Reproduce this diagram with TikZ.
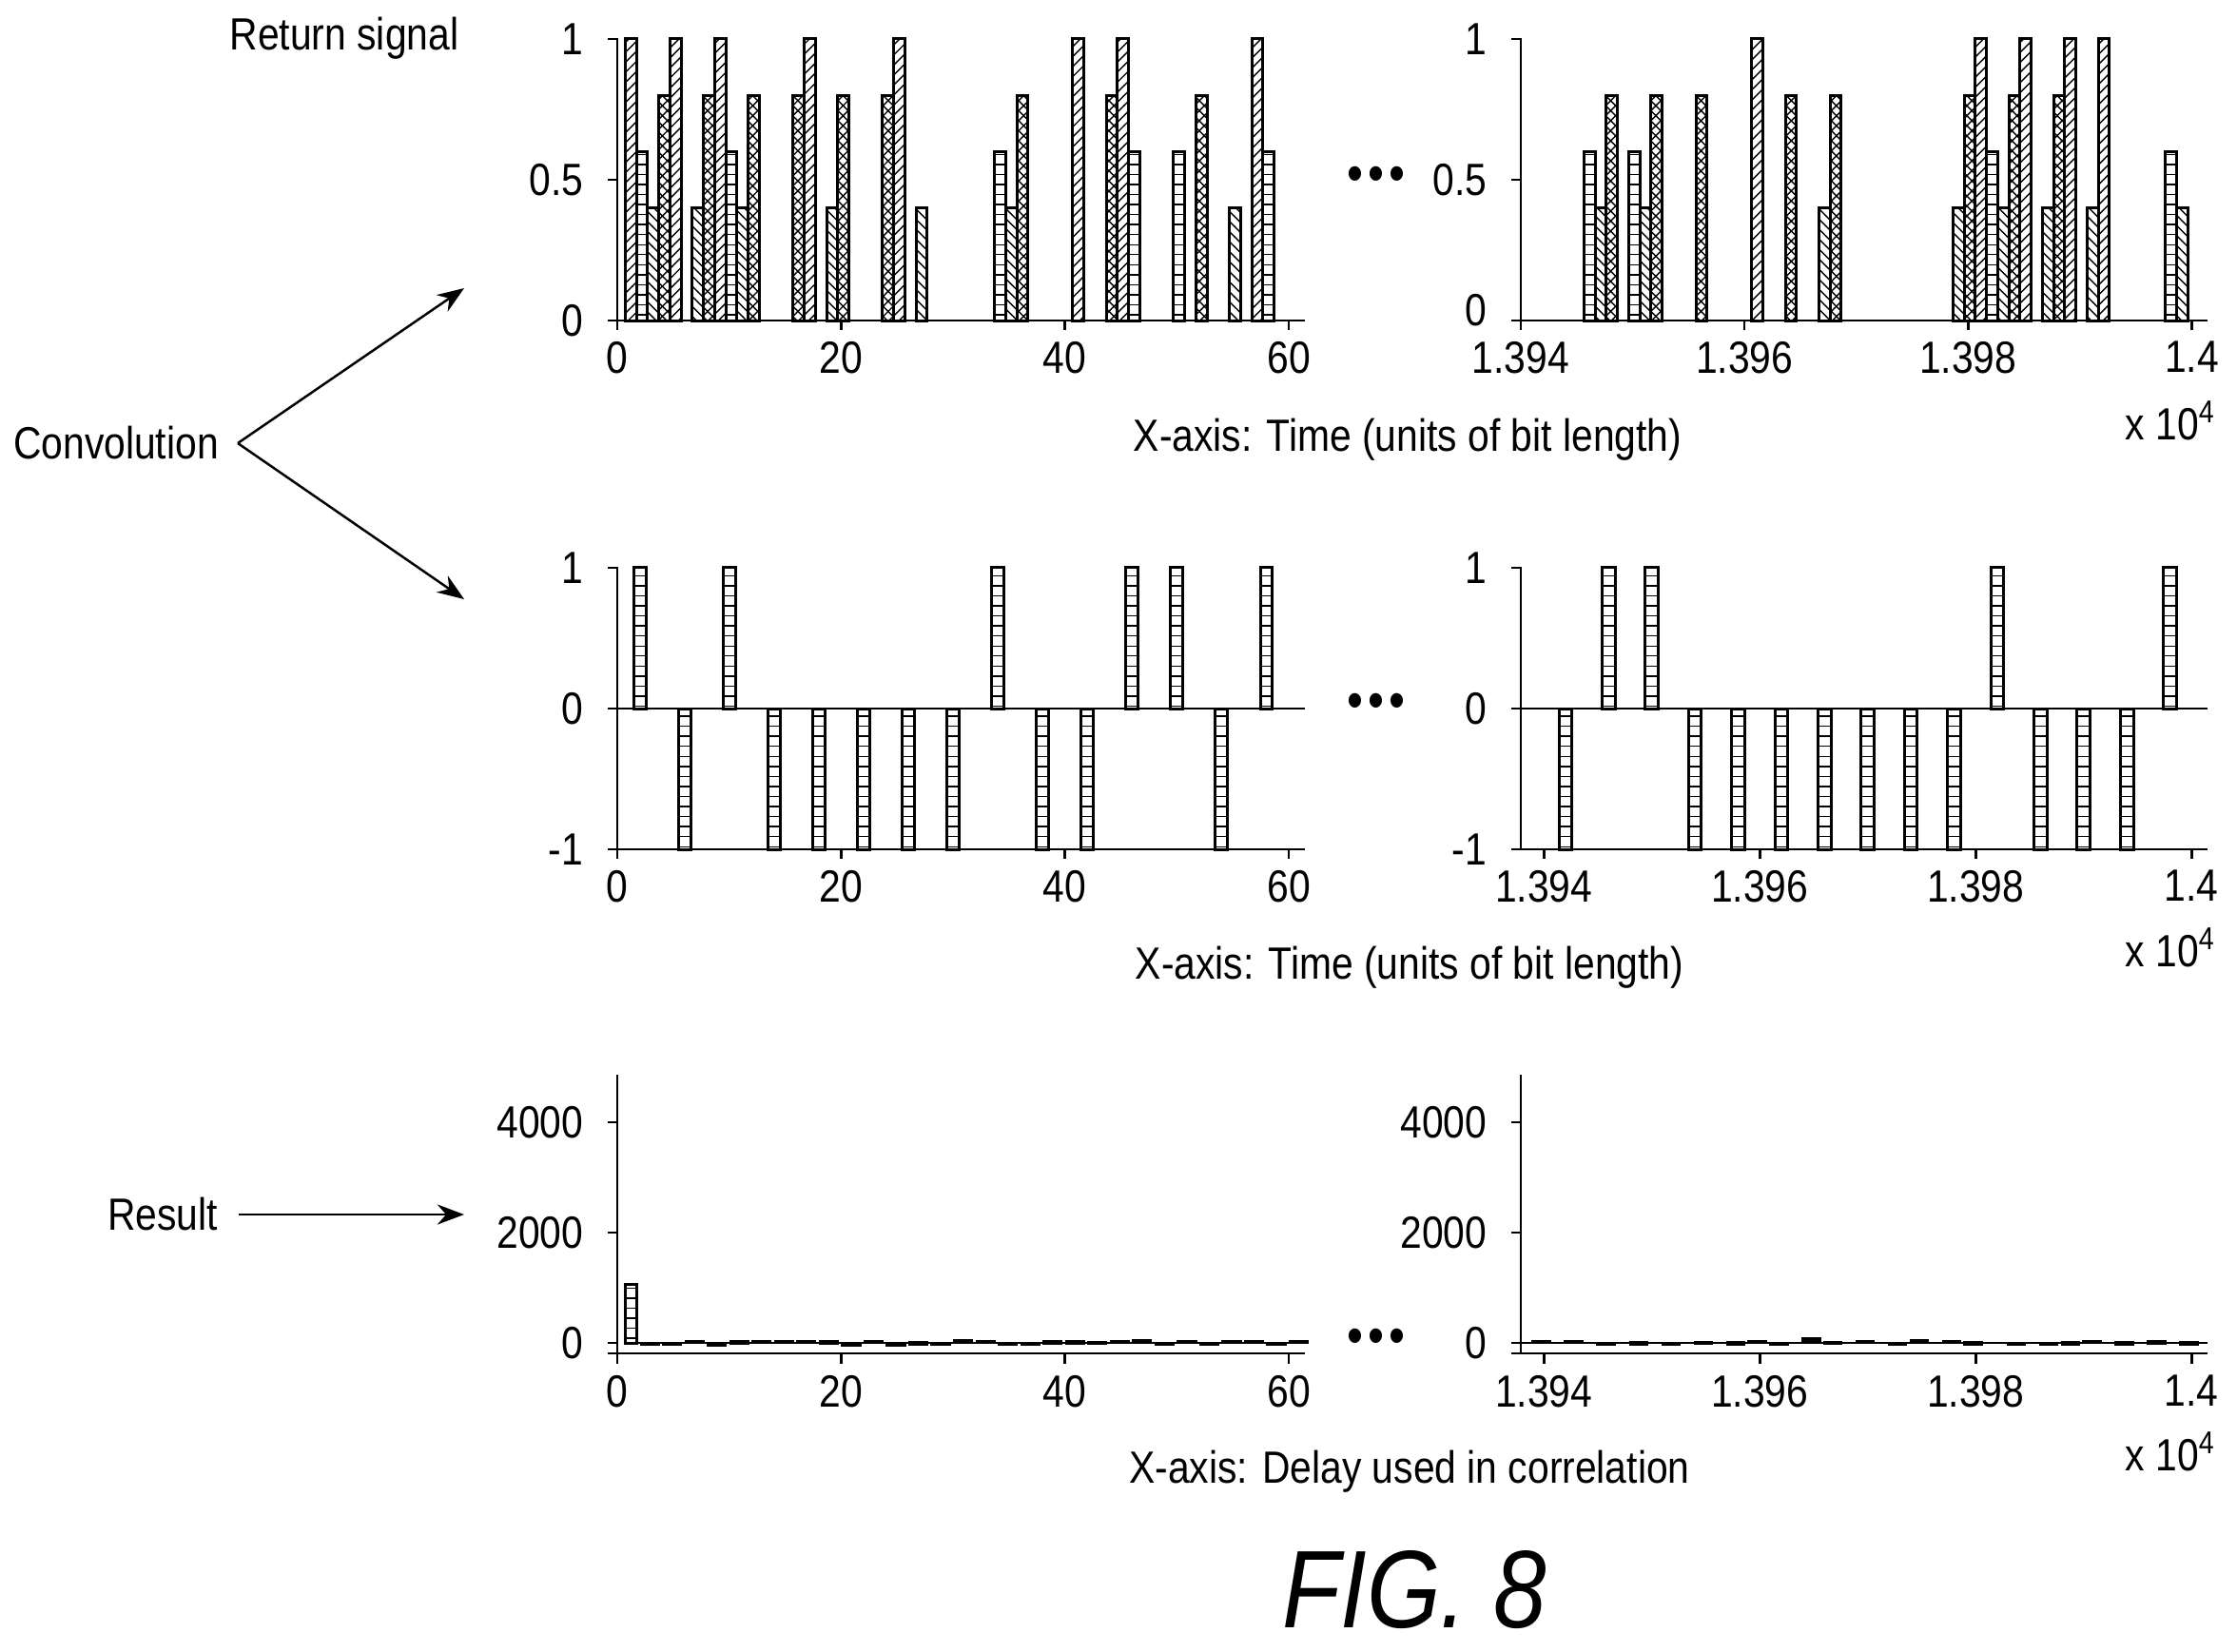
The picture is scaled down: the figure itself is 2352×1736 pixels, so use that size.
\documentclass[tikz,border=0pt]{standalone}
\usepackage{fontspec}
\setmainfont{Liberation Sans}[FakeStretch=0.86]
\usetikzlibrary{patterns,arrows.meta}
\begin{document}
\begin{tikzpicture}[x=0.01cm,y=-0.01cm,
  lbl/.style={font=\fontsize{13.5}{15}\selectfont,inner sep=1pt},
  dots/.style={font=\fontsize{16}{18}\selectfont,inner sep=1pt},
  ax/.style={line width=0.75pt},
  bar/.style={line width=0.85pt},
  h1/.style={pattern=north east lines},
  h8/.style={pattern=crosshatch},
  h6/.style={pattern=horizontal lines},
  h4/.style={pattern=north west lines},
  arr/.style={line width=0.7pt,-{Stealth[length=8pt,width=6pt]}}]
\useasboundingbox (0,0) rectangle (2352,1736);
% ---------- top left
\begin{scope}[shift={(649,337)},x=0.1176cm,y=2.96cm]
\foreach \k/\h/\s in {0/1/h1,1/.6/h6,2/.4/h4,3/.8/h8,4/1/h1,6/.4/h4,7/.8/h8,8/1/h1,9/.6/h6,10/.4/h4,11/.8/h8,15/.8/h8,16/1/h1,18/.4/h4,19/.8/h8,23/.8/h8,24/1/h1,26/.4/h4,33/.6/h6,34/.4/h4,35/.8/h8,40/1/h1,43/.8/h8,44/1/h1,45/.6/h6,49/.6/h6,51/.8/h8,54/.4/h4,56/1/h1,57/.6/h6}
  \draw[bar,\s] (\k+0.7,0) rectangle (\k+1.7,\h);
\draw[ax] (-0.82,0) -- (61.4,0);
\draw[ax] (-0.82,1) -- (0,1) -- (0,0);
\draw[ax] (-0.82,0.5) -- (0,0.5);
\foreach \t in {0,20,40,60} \draw[ax] (\t,0) -- (\t,-0.035) node[lbl,below=2pt] (tl\t) {\t};
\foreach \v/\n in {1/1,0.5/0.5,0/0} \node[lbl,left=9pt] (tly\n) at (0,\v) {\n};
\end{scope}
% ---------- top right
\begin{scope}[shift={(1599,337)},x=0.1175cm,y=2.96cm]
\foreach \k/\h/\s in {5/.6/h6,6/.4/h4,7/.8/h8,9/.6/h6,10/.4/h4,11/.8/h8,15/.8/h8,20/1/h1,23/.8/h8,26/.4/h4,27/.8/h8,38/.4/h4,39/.8/h8,40/1/h1,41/.6/h6,42/.4/h4,43/.8/h8,44/1/h1,46/.4/h4,47/.8/h8,48/1/h1,50/.4/h4,51/1/h1,57/.6/h6,58/.4/h4}
  \draw[bar,\s] (\k+0.65,0) rectangle (\k+1.65,\h);
\draw[ax] (-0.82,0) -- (61.4,0);
\draw[ax] (-0.82,1) -- (0,1) -- (0,0);
\draw[ax] (-0.82,0.5) -- (0,0.5);
\foreach \t/\l in {0/1.394,20/1.396,40/1.398,60/1.4} \draw[ax] (\t,0) -- (\t,-0.035) node[lbl,below=2pt] (tr\t) {\l};
\foreach \v/\n in {1/1,0.5/0.5} \node[lbl,left=9pt] (try\n) at (0,\v) {\n};
\node[lbl,left=9pt,yshift=3pt] (try0) at (0,0) {0};
\end{scope}
\node[lbl] (rs) at (362,40) {Return signal};
\node[lbl] (xl1) at (1480,462) {X-axis: Time (units of bit length)};
\node[lbl] (xe1) at (2282,442) {x 10\textsuperscript{4}};
\node[dots] (d1) at (1447,188) {•\hspace{1.5pt}•\hspace{1.5pt}•};
% ---------- middle left
\begin{scope}[shift={(649,745)},x=0.1176cm,y=1.48cm]
\foreach \c/\v in {2/1,6/-1,10/1,14/-1,18/-1,22/-1,26/-1,30/-1,34/1,38/-1,42/-1,46/1,50/1,54/-1,58/1}
  \draw[bar,h6] (\c-0.55,0) rectangle (\c+0.55,\v);
\draw[ax] (-0.82,0) -- (61.4,0);
\draw[ax] (-0.82,-1) -- (61.4,-1);
\draw[ax] (-0.82,1) -- (0,1) -- (0,-1);
\foreach \t in {0,20,40,60} \draw[ax] (\t,-1) -- (\t,-1.07) node[lbl,below=2pt] (ml\t) {\t};
\foreach \v/\n in {1/1,0/0,-1/-1} \node[lbl,left=9pt] (mly\n) at (0,\v) {\n};
\end{scope}
% ---------- middle right
\begin{scope}[shift={(1599,745)},x=0.11345cm,y=1.48cm]
\foreach \c/\v in {2/-1,6/1,10/1,14/-1,18/-1,22/-1,26/-1,30/-1,34/-1,38/-1,42/1,46/-1,50/-1,54/-1,58/1}
  \draw[bar,h6] (\c+2.13-0.6,0) rectangle (\c+2.13+0.6,\v);
\draw[ax] (-0.85,0) -- (63.6,0);
\draw[ax] (-0.85,-1) -- (63.6,-1);
\draw[ax] (-0.85,1) -- (0,1) -- (0,-1);
\foreach \t/\l in {0/1.394,20/1.396,40/1.398,60/1.4} \draw[ax] (\t+2.13,-1) -- (\t+2.13,-1.07) node[lbl,below=2pt] (mr\t) {\l};
\foreach \v/\n in {1/1,0/0,-1/-1} \node[lbl,left=9pt] (mry\n) at (0,\v) {\n};
\end{scope}
\node[lbl] (xl2) at (1482,1017) {X-axis: Time (units of bit length)};
\node[lbl] (xe2) at (2282,996) {x 10\textsuperscript{4}};
\node[dots] (d2) at (1447,742) {•\hspace{1.5pt}•\hspace{1.5pt}•};
% ---------- bottom left
\begin{scope}[shift={(649,1412)},x=0.1176cm,y=0.000585cm]
\draw[bar,h6] (0.7,0) rectangle (1.7,1060);
\draw[line width=0.8pt] (1.7,0) -- (61.4,0);
\foreach \k/\v in {2/-20,4/-15,6/15,8/-30,10/10,12/20,14/20,16/20,18/10,20/-25,22/15,24/-25,26/-10,28/-15,30/40,32/20,34/-15,36/-15,38/10,40/10,42/-5,44/20,46/25,48/-15,50/20,52/-15,54/20,56/15,58/-15,60/15}
  \draw[line width=1.2pt] (\k,\v) -- (\k+1.8,\v);
\draw[ax] (-0.82,-190) -- (61.4,-190);
\draw[ax] (0,4855) -- (0,-190);
\foreach \v in {0,2000,4000} {\draw[ax] (-0.82,\v) -- (0,\v); \node[lbl,left=9pt] (bly\v) at (0,\v) {\v};}
\foreach \t in {0,20,40,60} \draw[ax] (\t,-190) -- (\t,-380) node[lbl,below=2pt] (bl\t) {\t};
\end{scope}
% ---------- bottom right
\begin{scope}[shift={(1599,1412)},x=0.11345cm,y=0.000585cm]
\draw[line width=0.8pt] (0,0) -- (63.6,0);
\foreach \k/\v in {1/20,4/15,7/-15,10/-10,13/-15,16/0,19/-10,21/15,23/-15,26/60,28/0,31/15,34/-15,36/25,39/15,41/-10,45/-15,48/-15,50/-10,52/15,55/-10,58/10,61/-10}
  \draw[line width=1.2pt] (\k,\v) -- (\k+1.8,\v);
\draw[ax] (-0.85,-190) -- (63.6,-190);
\draw[ax] (0,4855) -- (0,-190);
\foreach \v in {0,2000,4000} {\draw[ax] (-0.85,\v) -- (0,\v); \node[lbl,left=9pt] (bry\v) at (0,\v) {\v};}
\foreach \t/\l in {0/1.394,20/1.396,40/1.398,60/1.4} \draw[ax] (\t+2.13,-190) -- (\t+2.13,-380) node[lbl,below=2pt] (br\t) {\l};
\end{scope}
\node[lbl] (xl3) at (1482,1547) {X-axis: Delay used in correlation};
\node[lbl] (xe3) at (2282,1526) {x 10\textsuperscript{4}};
\node[dots] (d3) at (1447,1410) {•\hspace{1.5pt}•\hspace{1.5pt}•};
% ---------- left labels and arrows
\node[lbl,anchor=east] (conv) at (234,466) {Convolution};
\coordinate (c1) at (488,303);
\coordinate (c2) at (488,630);
\draw[arr] (conv.east) ++(16,0) coordinate (cv) -- (c1);
\draw[arr] (cv) -- (c2);
\node[lbl,anchor=east] (res) at (233,1277) {Result};
\coordinate (c3) at (488,1277);
\draw[arr] (res.east) ++(18,0) -- (c3);
\node[font=\fontsize{33}{38}\selectfont\itshape] (fig) at (1487,1672) {FIG. 8};
\end{tikzpicture}
\end{document}
